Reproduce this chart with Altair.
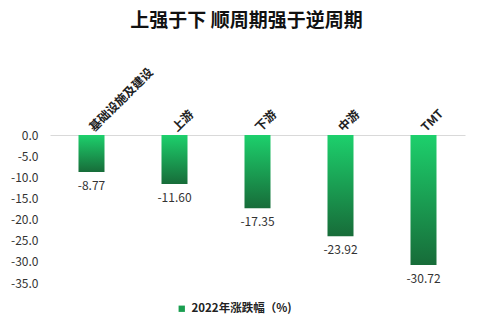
import altair as alt
import pandas as pd

categories = ["基础设施及建设", "上游", "下游", "中游", "TMT"]
values = [-8.77, -11.60, -17.35, -23.92, -30.72]
series_name = "2022年涨跌幅（%)"
y_ticks = [0, -5, -10, -15, -20, -25, -30, -35]

df = pd.DataFrame({"cat": categories, "val": values, "series": [series_name] * len(values)})

FONT = "Noto Sans CJK SC"

x_enc = alt.X(
    "cat:N",
    sort=categories,
    scale=alt.Scale(paddingInner=0, paddingOuter=0),
    axis=alt.Axis(
        orient="top", title=None, labelAngle=-45, labelAlign="left", labelBaseline="middle",
        labelFont=FONT, labelFontSize=12, labelFontWeight="bold", labelColor="#222222",
        ticks=False, domain=True, domainColor="#d9d9d9", domainWidth=1, labelPadding=6,
    ),
)
y_enc = alt.Y(
    "val:Q",
    scale=alt.Scale(domain=[-35, 0], nice=False),
    axis=alt.Axis(
        title=None, values=y_ticks, labelExpr="replace(format(datum.value, '.1f'), '\u2212', '-')",
        grid=False, ticks=False, domain=False, labelFont=FONT, labelFontSize=12,
        labelColor="#333333", labelPadding=12, labelOverlap=False, labelFlush=False,
    ),
)

grad = alt.Gradient(
    gradient="linear", x1=0, x2=0, y1=0, y2=1,
    stops=[alt.GradientStop(color="#1dd06c", offset=0), alt.GradientStop(color="#176c39", offset=1)],
)

bars = alt.Chart(df).mark_bar(size=26, fill=grad).encode(x=x_enc, y=y_enc)

legend_layer = alt.Chart(df).mark_square(size=0, opacity=0).encode(
    x=x_enc,
    y=y_enc,
    color=alt.Color(
        "series:N",
        scale=alt.Scale(range=["#1a9e50"]),
        legend=alt.Legend(
            title=None, orient="none", legendX=126, legendY=168, symbolType="square",
            symbolSize=40, symbolOpacity=1, labelFont=FONT, labelFontSize=11.5,
            labelFontWeight="bold", labelColor="#222222", symbolStrokeWidth=0,
        ),
    ),
)

labels = alt.Chart(df).transform_calculate(
    lbl="replace(format(datum.val, '.2f'), '\u2212', '-')"
).mark_text(
    baseline="top", dy=9, font=FONT, fontSize=12, color="#333333"
).encode(
    x=x_enc,
    y=y_enc,
    text=alt.Text("lbl:N"),
)

chart = (
    alt.layer(bars, labels, legend_layer)
    .properties(
        width=415,
        height=148,
        title=alt.Title(
            "上强于下 顺周期强于逆周期", font=FONT, fontSize=19, fontWeight="bold",
            color="#111111", anchor="middle", offset=34, dx=-11,
        ),
        autosize=alt.AutoSizeParams(type="none"),
        padding={"left": 50, "top": 135, "right": 14, "bottom": 47},
    )
    .configure_view(stroke=None)
)

chart.save("out.html", embed_options={"renderer": "svg", "actions": False})
